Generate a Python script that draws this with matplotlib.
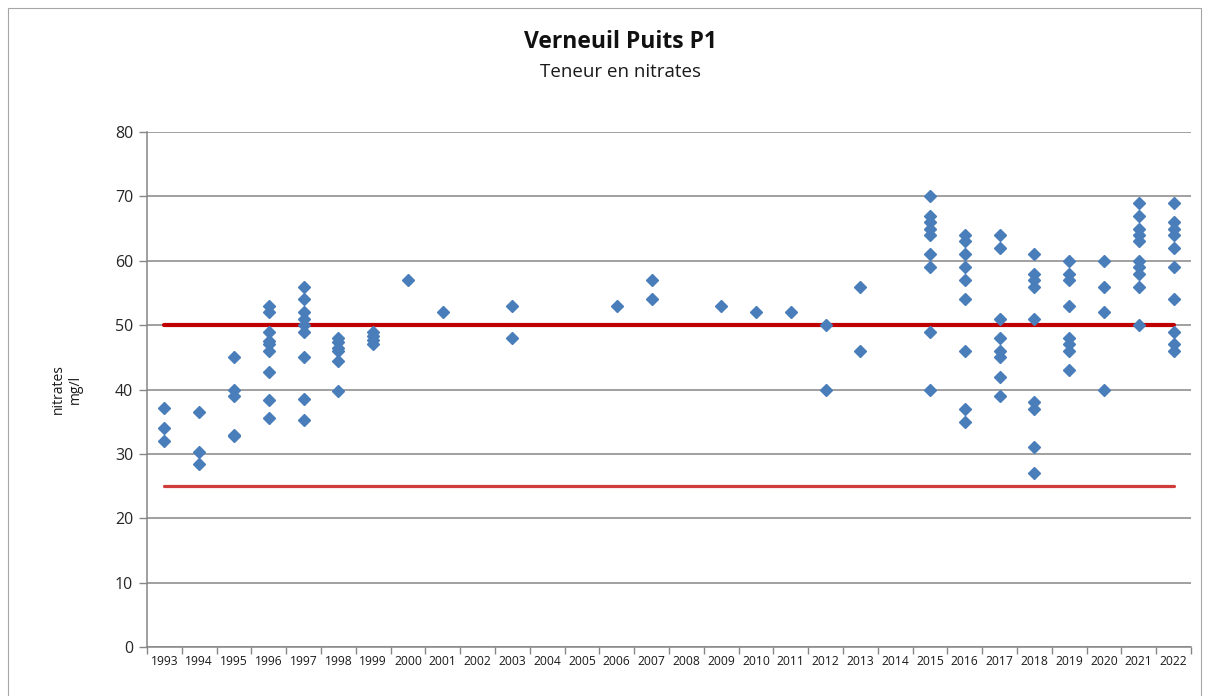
import matplotlib.pyplot as plt
import numpy as np
from matplotlib.patches import Rectangle

plt.rcParams['font.family'] = ['Open Sans', 'DejaVu Sans']

annees = [str(a) for a in range(1993, 2023)]

# analyses nitrates par année (mg/l)
mesures = {
    '1993': [37.1, 34, 32],
    '1994': [36.5, 30.3, 28.5],
    '1995': [45, 40, 39, 33, 32.7],
    '1996': [53, 52, 49, 47.5, 47, 46, 42.7, 38.4, 35.6],
    '1997': [56, 54, 52, 51, 50, 49, 45, 38.5, 35.2],
    '1998': [48, 47.4, 46.5, 46, 44.4, 39.8],
    '1999': [49, 48.3, 47.7, 47],
    '2000': [57],
    '2001': [52],
    '2003': [53, 48],
    '2006': [53],
    '2007': [57, 54],
    '2009': [53],
    '2010': [52],
    '2011': [52],
    '2012': [50, 40],
    '2013': [56, 46],
    '2015': [70, 67, 66, 65, 64, 61, 59, 49, 40],
    '2016': [64, 63, 61, 59, 57, 54, 46, 37, 35],
    '2017': [64, 62, 51, 48, 46, 45, 42, 39],
    '2018': [61, 58, 57, 56, 51, 38, 37, 31, 27],
    '2019': [60, 58, 57, 53, 48, 47, 46, 43],
    '2020': [60, 56, 52, 40],
    '2021': [69, 67, 65, 64, 63, 60, 59, 58, 56, 50],
    '2022': [69, 66, 65, 64, 62, 59, 54, 49, 47, 46],
}

limite_potable = 50
seuil_vigilance = 25

W, H = 1209, 696
fig = plt.figure(figsize=(W / 100, H / 100), dpi=100)
ax = fig.add_axes([147 / W, 1 - 647 / H, (1191 - 147) / W, 515 / H])

grey = '#868686'

# seuils
ax.plot([0, len(annees) - 1], [limite_potable] * 2, color='#C00000', lw=3,
        solid_capstyle='round', zorder=2)
ax.plot([0, len(annees) - 1], [seuil_vigilance] * 2, color='#D03B3B', lw=2.3,
        solid_capstyle='round', zorder=2)

# points de mesure
for an, vals in mesures.items():
    i = annees.index(an)
    ax.plot([i] * len(vals), vals, ls='none', marker='D', ms=6.2,
            color='#4A7EBB', mec='#4A7EBB', zorder=3)

ax.set_xlim(-0.5, len(annees) - 0.5)
ax.set_ylim(0, 80)
ax.set_yticks(np.arange(0, 81, 10))
ax.yaxis.grid(True, color=grey, lw=1.1)
ax.set_axisbelow(True)

ax.set_xticks(range(len(annees)), annees)
ax.set_xticks(np.arange(-0.5, len(annees), 1), minor=True)
ax.tick_params(axis='x', which='major', length=0, labelsize=8.7, pad=6,
               labelcolor='#1a1a1a')
ax.tick_params(axis='x', which='minor', length=5, color=grey, width=1)
ax.tick_params(axis='y', length=6, color=grey, width=1, labelsize=11.5,
               labelcolor='#262626', pad=4)

for s in ['top', 'right']:
    ax.spines[s].set_visible(False)
for s in ['left', 'bottom']:
    ax.spines[s].set_color(grey)
    ax.spines[s].set_linewidth(1.1)

fig.text(620 / W, 1 - 42 / H, 'Verneuil Puits P1', ha='center', va='center',
         fontsize=16.5, fontweight='bold', color='#111111')
fig.text(620 / W, 1 - 72 / H, 'Teneur en nitrates', ha='center', va='center',
         fontsize=13.5, color='#1a1a1a')
fig.text(67 / W, 1 - 389 / H, 'nitrates\nmg/l', ha='center', va='center',
         rotation=90, fontsize=10, color='#1a1a1a', linespacing=1.15)

# cadre du graphique
fig.patches.append(Rectangle((8 / W, -0.02), (1201 - 8) / W, (H - 8) / H + 0.02,
                             transform=fig.transFigure, fill=False,
                             ec='#a6a6a6', lw=0.8))

fig.savefig('out.png', dpi=100)
